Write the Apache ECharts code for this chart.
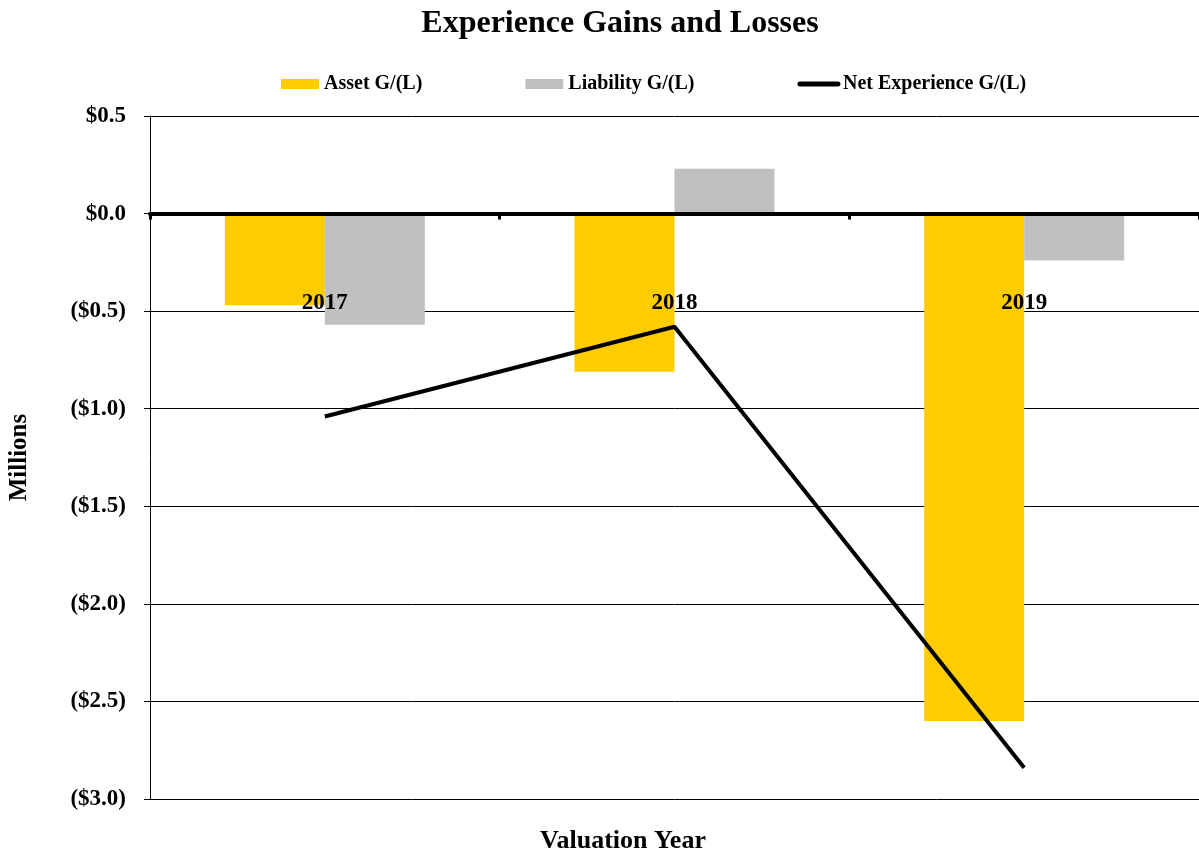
<!DOCTYPE html>
<html>
<head>
<meta charset="utf-8">
<script src="https://cdn.jsdelivr.net/npm/echarts@6/dist/echarts.min.js"></script>
<style>html,body{margin:0;padding:0;background:#fff}#c{width:1199px;height:854px}</style>
</head>
<body>
<div id="c"></div>
<script>
const categories = ['2017', '2018', '2019'];
const assetGL = [-0.47, -0.81, -2.60];
const liabilityGL = [-0.57, 0.23, -0.24];
const netGL = [-1.04, -0.58, -2.84];
const yTicks = { min: -3.0, max: 0.5, interval: 0.5 };

const FONT = '"Liberation Serif", "Times New Roman", serif';
const chart = echarts.init(document.getElementById('c'));
function fmt(v) {
  const a = Math.abs(v).toFixed(1);
  return v < -1e-9 ? '($' + a + ')' : '$' + a;
}
chart.setOption({
  animation: false,
  backgroundColor: '#fff',
  title: [
    { text: 'Experience Gains and Losses', left: 615, textAlign: 'center', top: 3,
      textStyle: { fontFamily: FONT, fontWeight: 'bold', fontSize: 32, color: '#000' } },
    { text: 'Valuation Year', left: 618, textAlign: 'center', top: 823,
      textStyle: { fontFamily: FONT, fontWeight: 'bold', fontSize: 26, color: '#000' } }
  ],
  legend: {
    left: 276, top: 69, itemGap: 103, itemWidth: 38, itemHeight: 10,
    textStyle: { fontFamily: FONT, fontWeight: 'bold', fontSize: 20, color: '#000' },
    data: [
      { name: 'Asset G/(L)', icon: 'rect' },
      { name: 'Liability G/(L)', icon: 'rect' },
      { name: 'Net Experience G/(L)', itemStyle: { opacity: 0 },
        lineStyle: { width: 5, cap: 'round', color: '#000' } }
    ]
  },
  grid: { left: 150, right: 0, top: 116, bottom: 55, containLabel: false, outerBoundsMode: 'none' },
  xAxis: {
    type: 'category', data: categories, z: 4,
    axisLine: { onZero: true, lineStyle: { color: '#000', width: 4 } },
    axisTick: { show: true, length: 6, lineStyle: { color: '#000', width: 3 } },
    axisLabel: { margin: -507, fontFamily: FONT, fontWeight: 'bold', fontSize: 23, color: '#000' }
  },
  yAxis: {
    type: 'value', min: yTicks.min, max: yTicks.max, interval: yTicks.interval,
    name: 'Millions', nameLocation: 'middle', nameGap: 118,
    nameTextStyle: { fontFamily: FONT, fontWeight: 'bold', fontSize: 25, color: '#000' },
    axisLine: { show: true, lineStyle: { color: '#000', width: 1 } },
    axisTick: { show: true, length: 6, lineStyle: { color: '#000', width: 1 } },
    axisLabel: { margin: 24, formatter: fmt, fontFamily: FONT, fontWeight: 'bold', fontSize: 23, color: '#000' },
    splitLine: { show: true, lineStyle: { color: '#000', width: 1 } }
  },
  series: [
    { name: 'Asset G/(L)', type: 'bar', data: assetGL, barWidth: 100, barGap: '0%',
      itemStyle: { color: '#FFCC00' } },
    { name: 'Liability G/(L)', type: 'bar', data: liabilityGL, barWidth: 100, barGap: '0%',
      itemStyle: { color: '#C0C0C0' } },
    { name: 'Net Experience G/(L)', type: 'line', data: netGL, symbol: 'none',
      lineStyle: { color: '#000', width: 4 }, itemStyle: { color: '#000' }, z: 5 }
  ]
});
</script>
</body>
</html>
